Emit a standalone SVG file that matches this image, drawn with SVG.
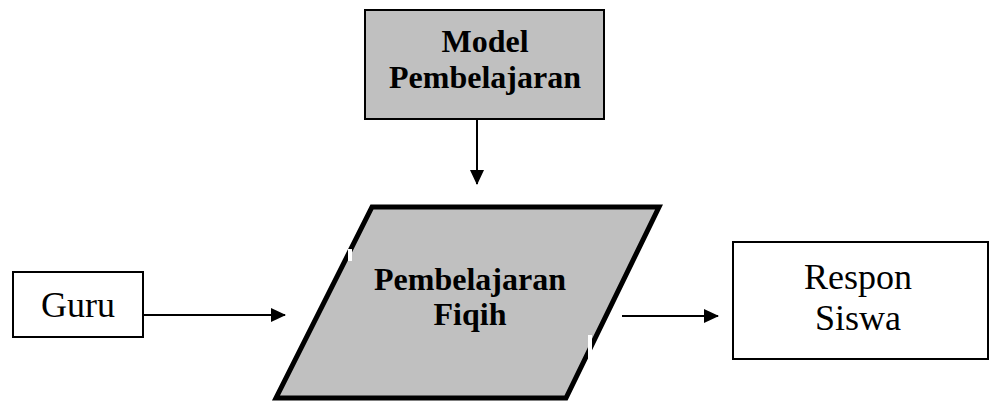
<svg xmlns="http://www.w3.org/2000/svg" width="991" height="403" viewBox="0 0 991 403">
<style>
.bold{font-family:"Liberation Serif","Times New Roman",serif;font-weight:bold;font-size:32px;fill:#000;text-anchor:middle}
.reg{font-family:"Liberation Serif","Times New Roman",serif;font-size:36px;fill:#000;text-anchor:middle}
.box{fill:#fff;stroke:#000;stroke-width:2}
.gray{fill:#c0c0c0;stroke:#000;stroke-width:2}
.conn{stroke:#000;stroke-width:2;fill:none}
</style>
<defs>
<marker id="arr" markerWidth="16" markerHeight="16" refX="14" refY="8" orient="auto" markerUnits="userSpaceOnUse">
<path d="M0,1 L15,8 L0,15 Z" fill="#000"/>
</marker>
</defs>
<rect width="991" height="403" fill="#fff"/>
<g id="model">
<rect class="gray" x="365" y="10" width="239" height="109"/>
<text class="bold" x="485" y="52">Model</text>
<text class="bold" x="485" y="88">Pembelajaran</text>
</g>
<g id="fiqih">
<polygon points="372,207 659,207 566,398 276,398" fill="#c0c0c0" stroke="#000" stroke-width="5" stroke-linejoin="miter"/>
<rect x="348" y="249" width="4" height="12" fill="#fff"/>
<rect x="588" y="335" width="4" height="24" fill="#fff"/>
<text class="bold" x="470" y="290">Pembelajaran</text>
<text class="bold" x="470" y="325">Fiqih</text>
</g>
<g id="guru">
<rect class="box" x="13" y="272" width="130" height="65"/>
<text class="reg" x="78" y="317">Guru</text>
</g>
<g id="respon">
<rect class="box" x="733" y="242" width="255" height="117"/>
<text class="reg" x="858" y="289">Respon</text>
<text class="reg" x="858" y="330">Siswa</text>
</g>
<g id="connectors">
<line class="conn" x1="477" y1="119" x2="477" y2="184" marker-end="url(#arr)"/>
<line class="conn" x1="143" y1="315" x2="285" y2="315" marker-end="url(#arr)"/>
<line class="conn" x1="622" y1="316" x2="718" y2="316" marker-end="url(#arr)"/>
</g>
</svg>
